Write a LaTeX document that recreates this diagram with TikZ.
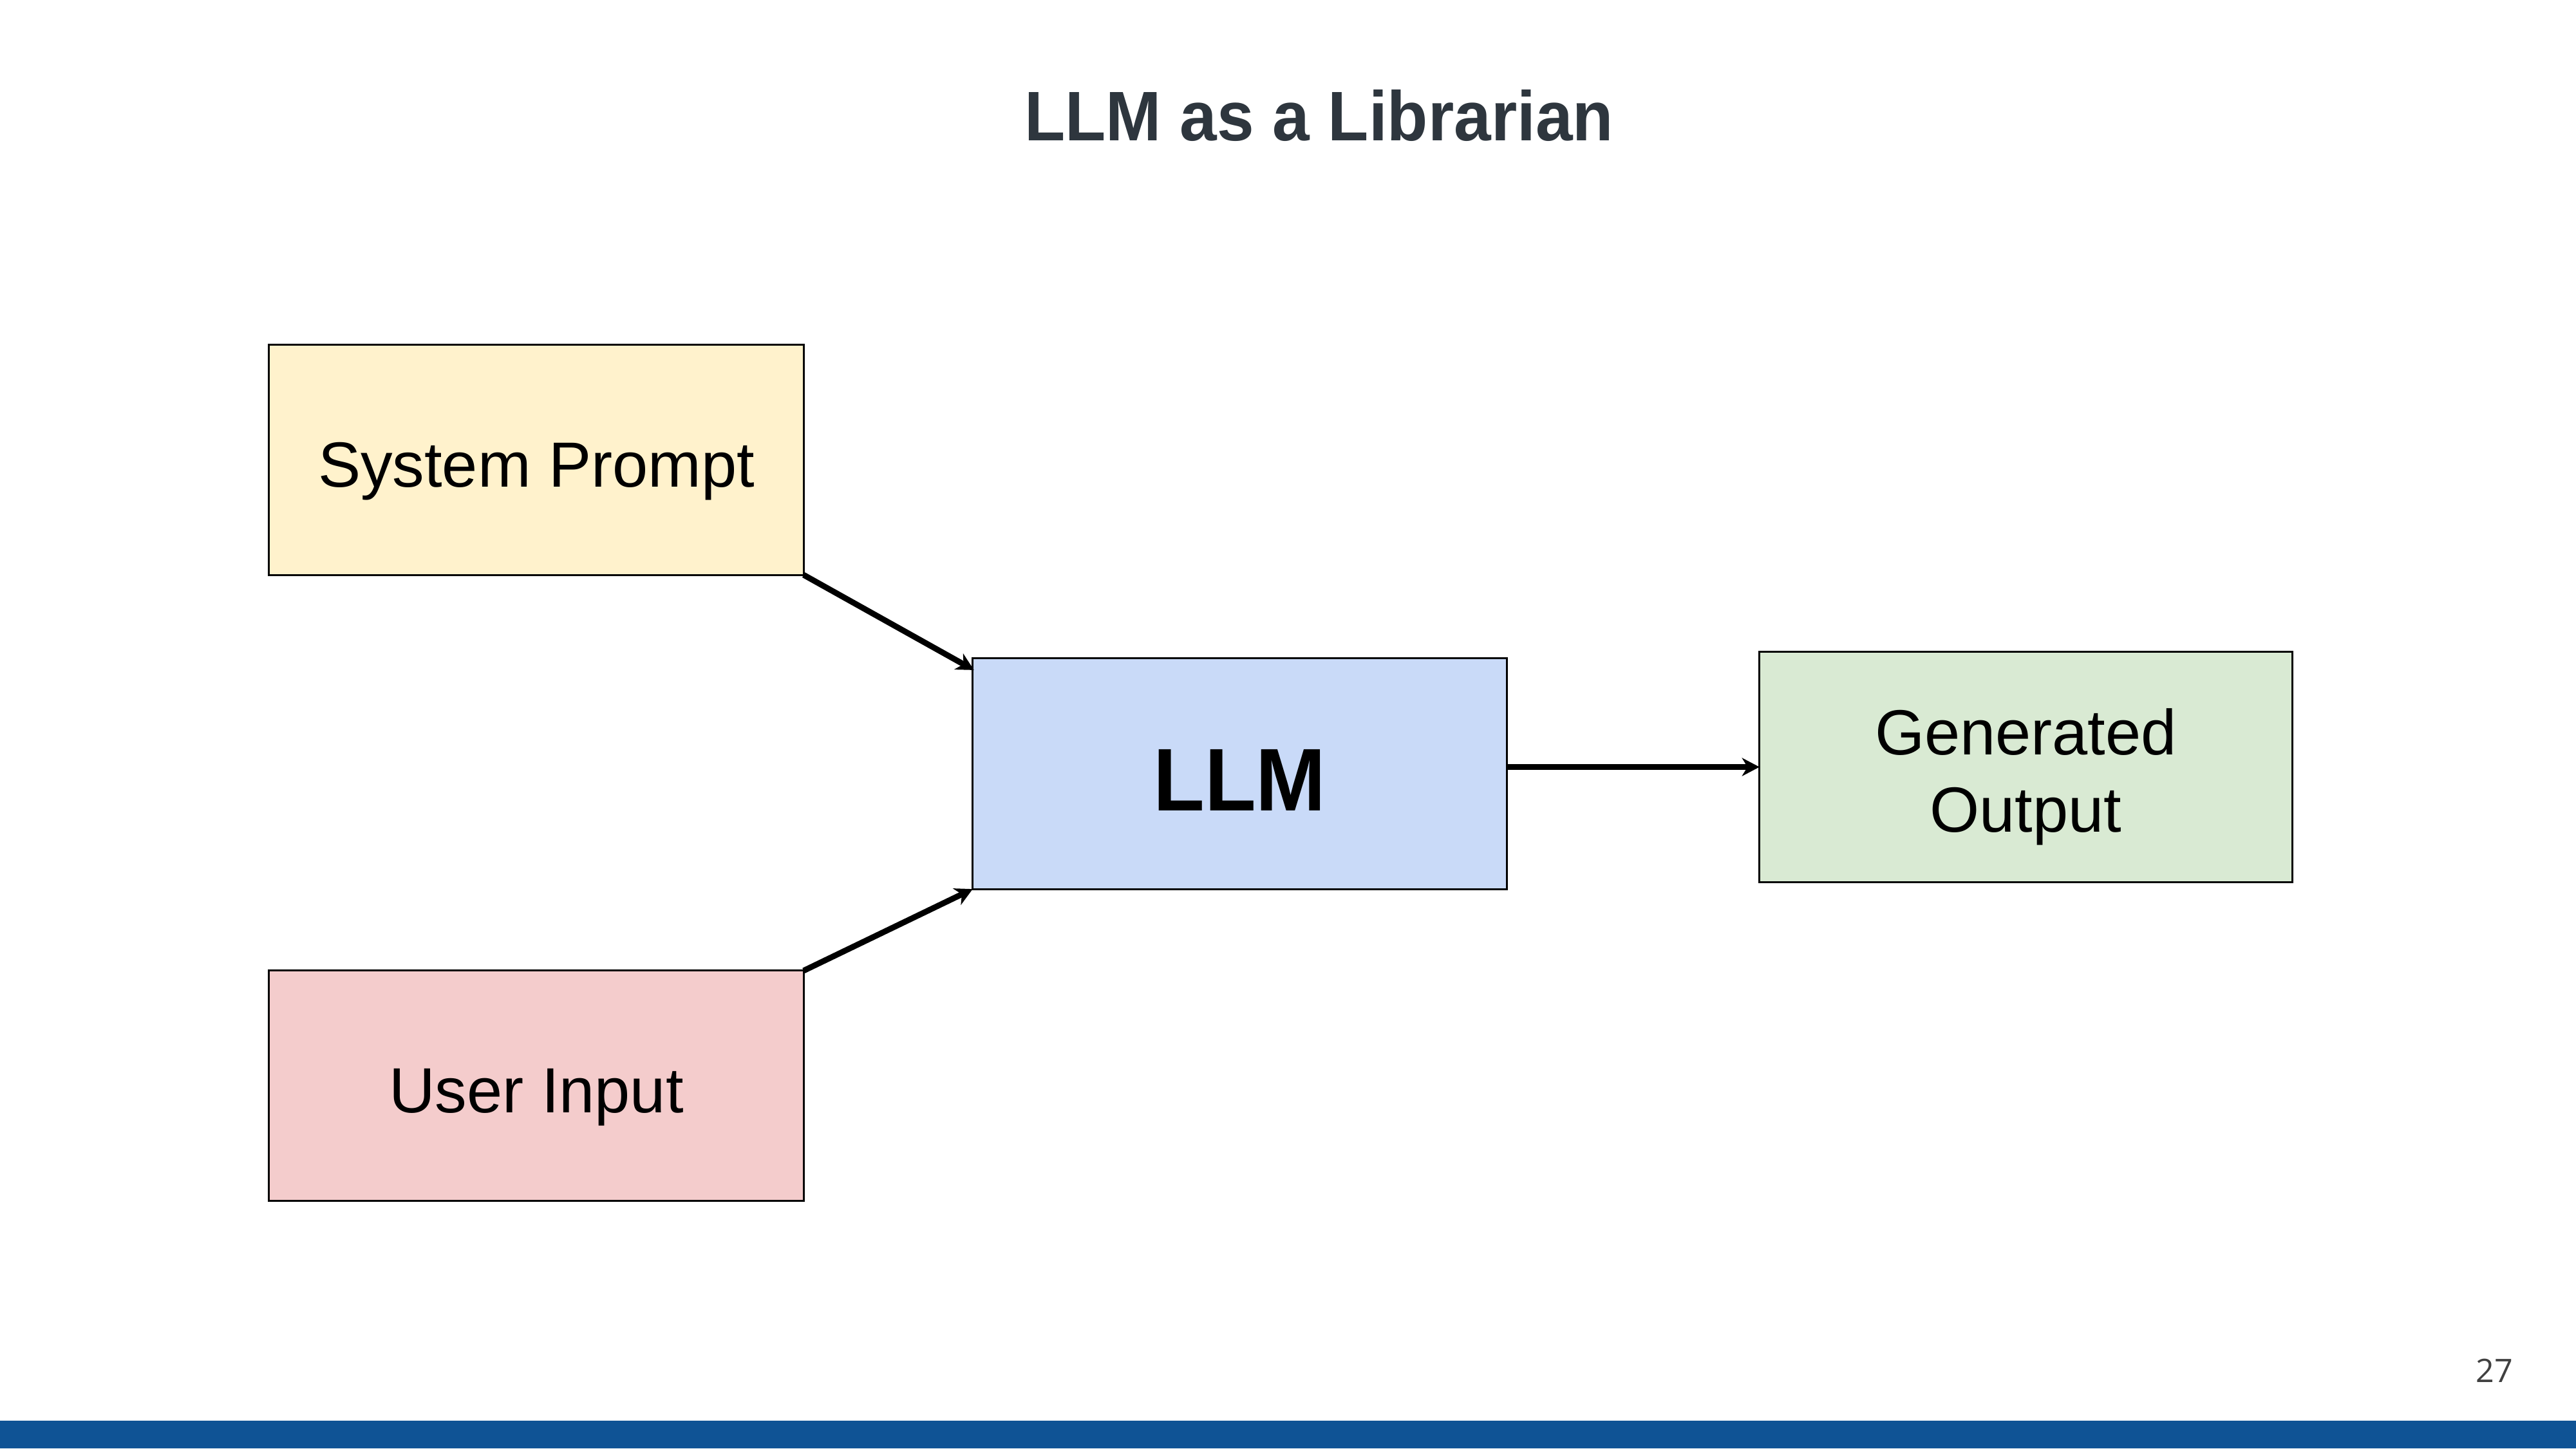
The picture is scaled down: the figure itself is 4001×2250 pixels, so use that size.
\documentclass[tikz,border=0pt]{standalone}
\usepackage{fontspec}
\setmainfont{Liberation Sans}
\newfontfamily\regfont{Liberation Sans}
\newfontfamily\titlefont{Liberation Sans}[FakeStretch=0.95]
\newfontfamily\llmfont{Liberation Sans}[FakeStretch=0.945]
\newfontfamily\numfont{Open Sans}
\usetikzlibrary{arrows.meta,calc}
\definecolor{spfill}{HTML}{FFF2CC}
\definecolor{uifill}{HTML}{F4CCCC}
\definecolor{llmfill}{HTML}{C9DAF8}
\definecolor{gofill}{HTML}{D9EAD3}
\definecolor{titlecol}{HTML}{2E363E}
\definecolor{numcol}{HTML}{404040}
\definecolor{barcol}{HTML}{0F5395}
\begin{document}
\begin{tikzpicture}[x=0.01cm,y=-0.01cm,
  box/.style={draw=black, line width=0.85pt, minimum width=8.3cm, minimum height=3.57cm,
    inner sep=0pt, outer sep=0pt, font=\regfont\fontsize{28.2pt}{34pt}\selectfont,
    text height=23.6pt, text depth=0pt},
  boxtext/.style={inner sep=0pt, font=\regfont\fontsize{28.2pt}{34pt}\selectfont, anchor=base},
  conn/.style={line width=2.56pt, -{Stealth[length=7.7pt,width=8pt,inset=2.4pt]}}]
\useasboundingbox (0,0) rectangle (4001,2250);
\fill[white] (0,0) rectangle (4001,2250);
% title
\node[anchor=base, inner sep=0pt, text=titlecol, font=\titlefont\bfseries\fontsize{31pt}{36pt}\selectfont] (title) at (2048.5,218) {LLM as a Librarian};
% boxes
\node[box, fill=spfill] (sp) at (833,714.5) {System Prompt};
\node[box, fill=uifill] (ui) at (833,1686.5) {User Input};
\node[box, fill=llmfill, minimum width=8.29cm, minimum height=3.58cm,
  font=\llmfont\bfseries\fontsize{39.3pt}{44pt}\selectfont, text height=32.4pt] (llm) at (1925.5,1202) {LLM};
\node[box, fill=gofill, minimum width=8.27cm] (go) at (3146.5,1191.5) {};
\node[boxtext] (gol1) at ($(go.center)+(0,-19.5)$) {Generated};
\node[boxtext] (gol2) at ($(go.center)+(0,100.5)$) {Output};
% connectors
\draw[conn] (sp.south east) -- ($(llm.north west)+(2,18)$);
\draw[conn] (ui.north east) -- (llm.south west);
\draw[conn] (llm.east |- go.west) -- (go.west);
% page number and bar
\node[anchor=base east, inner sep=0pt, text=numcol, font=\numfont\fontsize{14.3pt}{17pt}\selectfont] (pnum) at (3904,2147) {27};
\fill[barcol] (0,2207) rectangle (4001,2250);
\end{tikzpicture}
\end{document}
